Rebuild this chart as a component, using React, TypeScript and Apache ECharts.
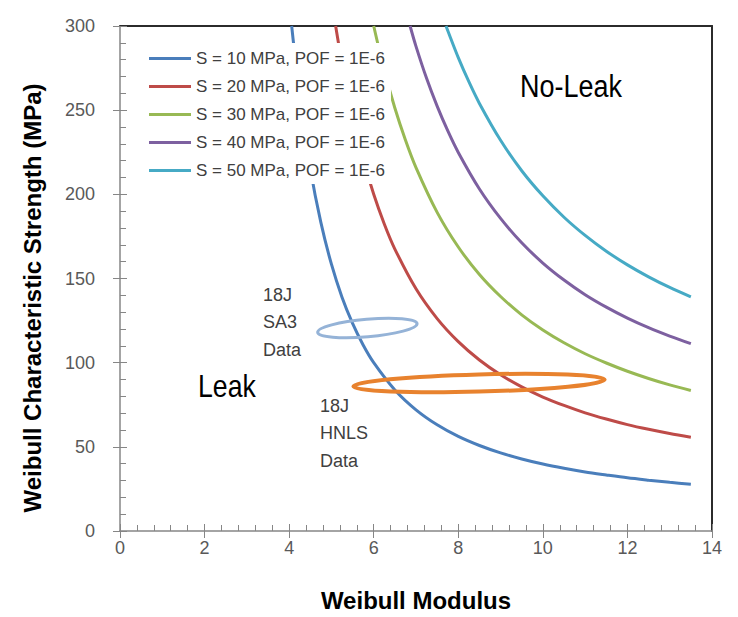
import React, { useEffect, useRef } from "react";
import * as echarts from "echarts";

// Series names and colours
const seriesNames = [
  "S = 10 MPa, POF = 1E-6",
  "S = 20 MPa, POF = 1E-6",
  "S = 30 MPa, POF = 1E-6",
  "S = 40 MPa, POF = 1E-6",
  "S = 50 MPa, POF = 1E-6",
];
const seriesColors = ["#4A7EBB", "#BE4B48", "#98B954", "#7D60A0", "#46AAC5"];

// [Weibull modulus, characteristic strength (MPa)]
const s10: [number, number][] = [
  [4.06, 300], [4.25, 258.1], [4.5, 215.4], [4.75, 183.3], [5, 158.5], [5.25, 138.9],
  [5.5, 123.3], [5.75, 110.5], [6, 100], [6.5, 83.8], [7, 72.0], [7.5, 63.1], [8, 56.2],
  [8.5, 50.8], [9, 46.4], [9.5, 42.8], [10, 39.8], [10.5, 37.3], [11, 35.1], [11.5, 33.3],
  [12, 31.6], [12.5, 30.2], [13, 28.9], [13.5, 27.8],
];
const s20: [number, number][] = [
  [5.1, 300], [5.25, 277.9], [5.5, 246.6], [5.75, 221.0], [6, 200], [6.25, 182.4],
  [6.5, 167.5], [7, 143.9], [7.5, 126.2], [8, 112.5], [8.5, 101.6], [9, 92.8], [9.5, 85.6],
  [10, 79.6], [10.5, 74.6], [11, 70.2], [11.5, 66.5], [12, 63.2], [12.5, 60.4], [13, 57.9],
  [13.5, 55.7],
];
const s30: [number, number][] = [
  [6, 300], [6.25, 273.6], [6.5, 251.3], [6.75, 232.3], [7, 215.9], [7.5, 189.3],
  [8, 168.7], [8.5, 152.4], [9, 139.3], [9.5, 128.4], [10, 119.4], [10.5, 111.8],
  [11, 105.3], [11.5, 99.8], [12, 94.9], [12.5, 90.6], [13, 86.8], [13.5, 83.5],
];
const s40: [number, number][] = [
  [6.86, 300], [7, 287.9], [7.25, 268.9], [7.5, 252.4], [7.75, 237.8], [8, 224.9],
  [8.5, 203.2], [9, 185.7], [9.5, 171.2], [10, 159.2], [10.5, 149.1], [11, 140.4],
  [11.5, 133.0], [12, 126.5], [12.5, 120.8], [13, 115.8], [13.5, 111.3],
];
const s50: [number, number][] = [
  [7.71, 300], [7.75, 297.3], [8, 281.2], [8.25, 266.9], [8.5, 254.0], [9, 232.1],
  [9.5, 214.0], [10, 199.1], [10.5, 186.4], [11, 175.6], [11.5, 166.2], [12, 158.1],
  [12.5, 151.0], [13, 144.7], [13.5, 139.1],
];
const curves = [s10, s20, s30, s40, s50];

// Data ellipses: [centre modulus, centre strength, half-width (modulus), half-height (MPa), tilt (rad)]
const sa3Ellipse = [5.85, 120.6, 1.18, 5.2, 0.087];
const hnlsEllipse = [8.49, 87.9, 2.97, 5.1, 0.027];

const xTicks = { min: 0, max: 14, interval: 2 };
const yTicks = { min: 0, max: 300, interval: 50 };

const FONT = "Liberation Sans";
const AXIS_GREY = "#868686";

export default function App() {
  const ref = useRef<HTMLDivElement>(null);

  useEffect(() => {
    document.body.style.margin = "0";
    const chart = echarts.init(ref.current!, undefined, { renderer: "svg" });

    const ellipseSeries = (data: number[], color: string, width: number) => ({
      type: "custom",
      xAxisIndex: 0,
      yAxisIndex: 0,
      clip: false,
      z: 3,
      data: [data],
      renderItem: (params: any, api: any) => {
        const c = api.coord([api.value(0), api.value(1)]);
        const s = api.size([api.value(2) * 2, api.value(3) * 2], [api.value(0), api.value(1)]);
        return {
          type: "ellipse",
          x: c[0],
          y: c[1],
          rotation: api.value(4),
          shape: { cx: 0, cy: 0, rx: s[0] / 2, ry: s[1] / 2 },
          style: { fill: "none", stroke: color, lineWidth: width },
        };
      },
    });

    const txt = (text: string, x: number, y: number, size: number, color: string, extra: any = {}) => ({
      type: "text",
      x,
      y,
      z: 20,
      style: {
        text,
        fill: color,
        font: `${extra.bold ? "bold " : ""}${size}px "${FONT}"`,
        textAlign: extra.align || "left",
        textVerticalAlign: "middle",
      },
      rotation: extra.rotation || 0,
      scaleX: extra.scaleX || 1,
    });

    const option: any = {
      animation: false,
      backgroundColor: "#fff",
      grid: { left: 120, right: 26, top: 26, bottom: 86, show: false },
      legend: {
        data: seriesNames,
        orient: "vertical",
        left: 144,
        top: 43,
        padding: [7, 6, 5, 5],
        itemGap: 11,
        itemWidth: 42,
        itemHeight: 3,
        icon: "rect",
        backgroundColor: "#fff",
        z: 10,
        textStyle: { fontFamily: FONT, fontSize: 17, color: "#404040", lineHeight: 17 },
      },
      xAxis: [
        {
          type: "value",
          ...xTicks,
          position: "bottom",
          axisLine: { show: true, onZero: false, lineStyle: { color: AXIS_GREY, width: 1.5 } },
          axisTick: { show: true, inside: true, length: 7, lineStyle: { color: AXIS_GREY } },
          minorTick: { show: true, splitNumber: 5, length: 6, lineStyle: { color: AXIS_GREY } },
          axisLabel: { margin: 8, fontFamily: FONT, fontSize: 18, color: "#595959" },
          splitLine: { show: false },
        },
        {
          type: "value",
          ...xTicks,
          position: "bottom",
          axisLine: { show: false, onZero: false },
          axisTick: { show: true, inside: false, length: 7, lineStyle: { color: AXIS_GREY } },
          axisLabel: { show: false },
          splitLine: { show: false },
        },
        {
          type: "value",
          ...xTicks,
          position: "top",
          axisLine: { show: true, onZero: false, lineStyle: { color: "#2b2b2b", width: 2 } },
          axisTick: { show: false },
          axisLabel: { show: false },
          splitLine: { show: false },
        },
      ],
      yAxis: [
        {
          type: "value",
          ...yTicks,
          position: "left",
          axisLine: { show: true, onZero: false, lineStyle: { color: AXIS_GREY, width: 1.5 } },
          axisTick: { show: true, inside: true, length: 7, lineStyle: { color: AXIS_GREY } },
          minorTick: { show: true, splitNumber: 5, length: 6, lineStyle: { color: AXIS_GREY } },
          axisLabel: { margin: 25, fontFamily: FONT, fontSize: 18, color: "#595959" },
          splitLine: { show: false },
        },
        {
          type: "value",
          ...yTicks,
          position: "left",
          axisLine: { show: false, onZero: false },
          axisTick: { show: true, inside: false, length: 7, lineStyle: { color: AXIS_GREY } },
          axisLabel: { show: false },
          splitLine: { show: false },
        },
        {
          type: "value",
          ...yTicks,
          position: "right",
          axisLine: { show: true, onZero: false, lineStyle: { color: "#2b2b2b", width: 2 } },
          axisTick: { show: false },
          axisLabel: { show: false },
          splitLine: { show: false },
        },
      ],
      series: [
        ...curves.map((d, i) => ({
          type: "line",
          name: seriesNames[i],
          data: d,
          xAxisIndex: 0,
          yAxisIndex: 0,
          smooth: 0.3,
          showSymbol: false,
          symbol: "none",
          color: seriesColors[i],
          lineStyle: { width: 3, color: seriesColors[i] },
          z: 2,
        })),
        ellipseSeries(sa3Ellipse, "#95B3D7", 3),
        ellipseSeries(hnlsEllipse, "#E8822E", 4),
      ],
      graphic: [
        txt("Weibull Characteristic Strength (MPa)", 32, 298, 24, "#000", { bold: true, align: "center", rotation: Math.PI / 2 }),
        txt("Weibull Modulus", 416, 600, 24, "#000", { bold: true, align: "center" }),
        txt("No-Leak", 520, 86, 31, "#000", { scaleX: 0.87 }),
        txt("Leak", 198, 386, 31, "#000", { scaleX: 0.86 }),
        txt("18J", 263, 295, 18, "#404040"),
        txt("SA3", 263, 322, 18, "#404040"),
        txt("Data", 263, 350, 18, "#404040"),
        txt("18J", 320, 406, 18, "#404040"),
        txt("HNLS", 320, 433, 18, "#404040"),
        txt("Data", 320, 461, 18, "#404040"),
      ],
    };

    chart.setOption(option);
    return () => chart.dispose();
  }, []);

  return (
    <div
      ref={ref}
      style={{ width: 738, height: 617, position: "absolute", left: 0, top: 0 }}
    />
  );
}
